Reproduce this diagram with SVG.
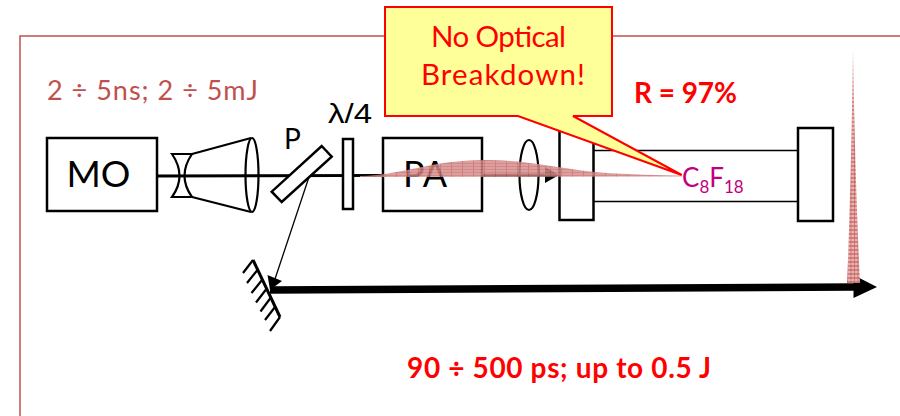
<svg xmlns="http://www.w3.org/2000/svg" width="900" height="416" viewBox="0 0 900 416">
<style>
.box{fill:#fff;stroke:#000;stroke-width:2.5}
.nf{fill:none;stroke:#000;stroke-width:2.2}
text{font-family:"Lato","Liberation Sans",sans-serif}
.red{fill:#f00;font-weight:700;font-size:28px}
.call{fill:#f00;font-size:29.500px}
.blk{fill:#000}
</style>
<defs>
<pattern id="hatch" width="11" height="3" patternUnits="userSpaceOnUse">
<rect width="11" height="3" fill="#d58f8d"/>
<path d="M0 0V3" stroke="#b8403d" stroke-width="1" fill="none"/>
<path d="M0 1.500H11" stroke="#c86c6a" stroke-width="0.7" fill="none"/>
</pattern>
<pattern id="hatch2" width="3.500" height="4" patternUnits="userSpaceOnUse">
<rect width="3.500" height="4" fill="#e6b5b3"/>
<path d="M0 0V4M0 2H3.500" stroke="#c0504d" stroke-width="1" fill="none"/>
</pattern>
</defs>
<path id="frame" d="M900 36H20V416" fill="none" stroke="#c0504d" stroke-width="1.500"/>
<g id="connectors">
<line x1="157" y1="176" x2="546" y2="175" stroke="#000" stroke-width="2.800"/>
<path d="M545 167L559 175L545 183Z" fill="#000"/>
<line x1="309" y1="177" x2="275" y2="279" stroke="#000" stroke-width="1.300"/>
<path d="M267.500 275L282 281L270 290Z" fill="#000"/>
<line x1="270" y1="290" x2="855" y2="287" stroke="#000" stroke-width="7.500"/>
<path d="M853.500 275L877 287L853.500 298Z" fill="#000"/>
</g>
<g id="MO"><rect class="box" x="47" y="138" width="110" height="73"/><text x="98.500" y="187" font-size="37" text-anchor="middle" class="blk">MO</text></g>
<g id="telescope">
<path class="nf" d="M172 154H192Q177 176 192 197H172Q187 176 172 154Z"/>
<path class="nf" d="M192 154L251 138M192 197L251 212"/>
<ellipse class="nf" cx="252" cy="175" rx="6.500" ry="37"/>
</g>
<g id="P"><polygon class="box" points="321.700,146 331.700,156.700 281.700,202 271.700,191.700"/><text x="292.500" y="149" font-size="28" text-anchor="middle" class="blk">P</text></g>
<g id="waveplate"><rect class="box" x="343" y="139" width="10" height="70"/><text x="350" y="123" font-size="28" text-anchor="middle" class="blk" style="font-family:'Liberation Sans',sans-serif" textLength="44" lengthAdjust="spacingAndGlyphs">λ/4</text></g>
<g id="PA"><rect class="box" x="383" y="138" width="99" height="73"/><text x="425" y="187" font-size="36" text-anchor="middle" class="blk">PA</text></g>
<g id="lens"><ellipse class="nf" cx="529" cy="175" rx="9.500" ry="35"/></g>
<g id="cell">
<line x1="594" y1="150.500" x2="798" y2="150.500" stroke="#000" stroke-width="1.500"/>
<line x1="594" y1="201.500" x2="798" y2="201.500" stroke="#000" stroke-width="1.500"/>
<rect class="box" x="559.500" y="130" width="34" height="90"/>
<rect class="box" x="798" y="128" width="35" height="93"/>
</g>
<g id="mirror">
<path d="M253 260L280 317" fill="none" stroke="#000" stroke-width="3"/>
<path d="M253 260L243 273M257.500 270L247 283M262 280L251.500 293M266 289.500L256 302.500M270.500 298L260.500 311.500M275 307L265 320M280 317L270 331" fill="none" stroke="#000" stroke-width="2.200"/>
</g>
<path id="pulse" d="M360 176C405 175 430 160 485 160C530 160 560 169 600 172.500C630 174.500 660 175.500 682 175.500L682 176.500L360 177Z" fill="url(#hatch)" fill-opacity="0.85"/>
<path id="spike" d="M853 50C852 120 850 220 847 283H860C857 220 854 120 853 50Z" fill="url(#hatch2)"/>
<g id="callout">
<polygon points="385,7 612,7 612,116 573,116 681.700,175 518,116 385,116" fill="#ffff99" stroke="#f00" stroke-width="2"/>
<text class="call" x="431" y="47" textLength="135">No Optical</text>
<text class="call" x="421" y="85" textLength="164">Breakdown!</text>
</g>
<text x="47" y="100" font-size="27" fill="#c0504d" textLength="211">2 ÷ 5ns; 2 ÷ 5mJ</text>
<text class="red" x="634" y="103" textLength="103">R = 97%</text>
<text class="red" x="407" y="378" textLength="304">90 ÷ 500 ps; up to 0.5 J</text>
<text x="682" y="187" font-size="26" fill="#c00080">C<tspan font-size="17" dy="6">8</tspan><tspan dy="-6">F</tspan><tspan font-size="17" dy="6">18</tspan></text>
</svg>
